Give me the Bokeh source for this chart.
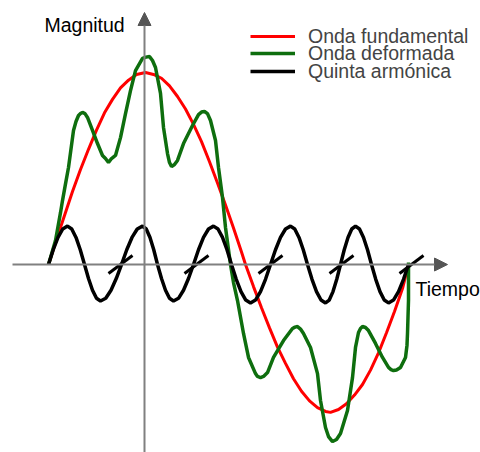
from bokeh.plotting import figure
from bokeh.models import Range1d, Arrow, NormalHead, Label, Legend, LegendItem
from bokeh.embed import file_html
from bokeh.resources import INLINE

# x: phase in degrees (0 at the vertical axis), y: magnitude in per-unit of the fundamental peak
red_x = [-96, -88, -80, -72, -64, -56, -48, -40, -32, -24, -16, -8, 1, 9, 17, 25, 33, 41, 49, 57, 65,
         73, 81, 89, 97, 101, 109, 117, 125, 133, 141, 149, 157, 165, 173, 181, 186, 194, 202, 210,
         218, 226, 234, 242, 250, 258, 264]
red_y = [0.0, 0.13, 0.255, 0.38, 0.495, 0.60, 0.70, 0.79, 0.86, 0.92, 0.96, 0.99, 1.0, 0.99, 0.97,
         0.93, 0.875, 0.81, 0.73, 0.64, 0.535, 0.425, 0.31, 0.19, 0.065, 0.0, -0.115, -0.225, -0.33,
         -0.43, -0.515, -0.595, -0.66, -0.71, -0.745, -0.765, -0.77, -0.755, -0.725, -0.68, -0.625,
         -0.55, -0.46, -0.355, -0.245, -0.125, 0.0]

green_x = [-96, -89, -84, -82, -79, -76, -71, -68.5, -66, -64, -62, -59.5, -57, -52, -47, -42, -39, -36,
           -33, -29, -24, -19, -14, -9, -2, 1.5, 5, 8, 11, 16, 19, 23, 25, 27, 30, 33, 39, 48, 54, 57,
           60, 63, 66, 71, 74, 78, 81, 86, 89, 93, 99, 104, 111, 113, 116, 119, 123, 129, 139, 148,
           150.5, 153, 156, 159, 166, 173, 176, 181, 184, 188, 192, 196, 203, 208, 211, 214, 216, 218,
           221, 224, 231, 238, 244, 246.5, 249, 252, 256, 261, 262.5, 263, 264, 264]
green_y = [0.0, 0.125, 0.27, 0.333, 0.42, 0.505, 0.698, 0.745, 0.776, 0.786, 0.792, 0.786, 0.766, 0.698,
           0.630, 0.568, 0.552, 0.531, 0.552, 0.568, 0.661, 0.786, 0.906, 1.01, 1.073, 1.08, 1.083,
           1.0625, 1.026, 0.891, 0.714, 0.578, 0.531, 0.51, 0.521, 0.542, 0.630, 0.724, 0.781, 0.794,
           0.797, 0.786, 0.75, 0.646, 0.505, 0.349, 0.193, 0.0, -0.094, -0.1875, -0.359, -0.484,
           -0.568, -0.583, -0.589, -0.583, -0.5625, -0.484, -0.396, -0.333, -0.326, -0.323, -0.336,
           -0.359, -0.432, -0.568, -0.708, -0.849, -0.896, -0.922, -0.911, -0.880, -0.760, -0.589,
           -0.432, -0.354, -0.333, -0.323, -0.328, -0.344, -0.411, -0.484, -0.536, -0.547, -0.552,
           -0.549, -0.536, -0.484, -0.42, -0.359, -0.1875, 0.01]

black_x = [-96, -91.25, -86.5, -81.75, -77, -72.75, -68.5, -64.25, -60, -56, -52, -48, -44,
           -38.75, -33.5, -28.25, -23, -17.75, -12.5, -7.25, -2, 1.75, 5.5, 9.25, 13, 17, 21, 25, 29,
           34, 39, 44, 49, 54, 59, 64, 69, 73.5, 78, 82.5, 87, 91.75, 96.5, 101.25, 106, 111, 116, 121,
           126, 131, 136, 141, 146, 150.25, 154.5, 158.75, 163, 167.5, 172, 176.5, 181, 184.75, 188.5,
           192.25, 196, 199.75, 203.5, 207.25, 211, 215, 219, 223, 227, 231.25, 235.5, 239.75, 244,
           249, 254, 259, 264]
black_y = [0, 0.077, 0.141, 0.185, 0.2, 0.185, 0.141, 0.077, 0, -0.073, -0.134, -0.176, -0.19,
           -0.176, -0.134, -0.073, 0, 0.077, 0.141, 0.185, 0.2, 0.185, 0.141, 0.077, 0, -0.073, -0.134,
           -0.176, -0.19, -0.176, -0.134, -0.073, 0, 0.077, 0.141, 0.185, 0.2, 0.185, 0.141, 0.077, 0,
           -0.077, -0.141, -0.185, -0.2, -0.185, -0.141, -0.077, 0, 0.077, 0.141, 0.185, 0.2, 0.185,
           0.141, 0.077, 0, -0.077, -0.141, -0.185, -0.2, -0.185, -0.141, -0.077, 0, 0.077, 0.141,
           0.185, 0.2, 0.185, 0.141, 0.077, 0, -0.077, -0.141, -0.185, -0.2, -0.185, -0.141, -0.077, 0]

# short tangent marks at the rising zero crossings of the fifth harmonic
mark_x = [-24, 52, 126, 197, 267]
mark_y = [0, 0, 0, 0, 0]

series_labels = ["Onda fundamental", "Onda deformada", "Quinta armónica"]
axis_labels = ["Magnitud", "Tiempo"]

FONT = "Liberation Sans"
FS = "19.5px"

p = figure(width=480, height=452, output_backend="svg", toolbar_location=None,
           x_axis_type=None, y_axis_type=None, min_border=0,
           x_range=Range1d(-144, 336), y_range=Range1d(-0.979, 1.375))
p.grid.visible = False
p.outline_line_color = None
p.background_fill_color = "white"
p.border_fill_color = "white"

# axes with arrow heads
p.add_layout(Arrow(end=NormalHead(size=13, fill_color="#555555", line_color="#555555"),
                   x_start=-132, y_start=0, x_end=303, y_end=0,
                   line_color="#808080", line_width=2))
p.add_layout(Arrow(end=NormalHead(size=13, fill_color="#555555", line_color="#555555"),
                   x_start=0, y_start=-0.979, x_end=0, y_end=1.3125,
                   line_color="#808080", line_width=2))

r_red = p.line(red_x, red_y, line_color="#ff0000", line_width=3)
r_green = p.line(green_x, green_y, line_color="#0e6e0e", line_width=3.5)
r_black = p.line(black_x, black_y, line_color="#000000", line_width=3.5)
p.segment(x0=[m - 12 for m in mark_x], y0=[m - 0.047 for m in mark_y],
          x1=[m + 12 for m in mark_x], y1=[m + 0.047 for m in mark_y],
          line_color="#000000", line_width=3)

p.add_layout(Label(x=-100, y=1.245, text=axis_labels[0], text_font=FONT,
                   text_font_size=FS, text_color="#000000", text_baseline="alphabetic"))
p.add_layout(Label(x=271, y=-0.125, text=axis_labels[1], text_font=FONT,
                   text_font_size=FS, text_color="#000000", text_baseline="alphabetic"))

for lab, r, vy in zip(series_labels, [r_red, r_green, r_black], [401, 384, 366]):
    leg = Legend(items=[LegendItem(label=lab, renderers=[r])], location=(250, vy),
                 orientation="vertical", glyph_width=45, glyph_height=30, label_height=30,
                 label_standoff=13, padding=0, margin=0, spacing=0,
                 border_line_alpha=0, background_fill_alpha=0,
                 label_text_font=FONT, label_text_font_size=FS)
    p.add_layout(leg)

open("out.html", "w").write(file_html(p, INLINE))
